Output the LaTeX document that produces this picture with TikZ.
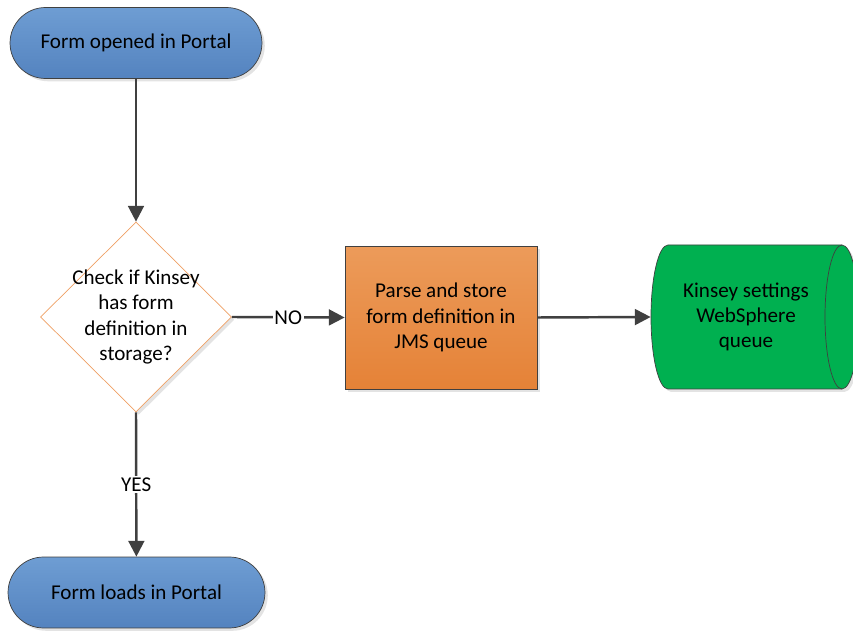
\documentclass[tikz,border=0pt]{standalone}
\usepackage{fontspec}
\setmainfont{Carlito}
\usetikzlibrary{shapes.geometric,arrows.meta,shadows}

\definecolor{termtop}{RGB}{110,157,211}
\definecolor{termbot}{RGB}{84,131,191}
\definecolor{proctop}{RGB}{236,155,90}
\definecolor{procbot}{RGB}{229,130,55}
\definecolor{queuegreen}{RGB}{0,176,80}
\definecolor{decborder}{RGB}{240,160,100}
\definecolor{linegray}{RGB}{64,64,64}

\begin{document}
\begin{tikzpicture}[x=0.02cm,y=-0.02cm,
    font=\fontsize{12}{14.4}\selectfont,
    softshadow/.style={drop shadow={shadow xshift=1.6pt,shadow yshift=-1.6pt,fill=black!22}},
    terminal/.style={rectangle, rounded corners=0.71cm, draw=linegray, top color=termtop,
        bottom color=termbot, minimum height=1.42cm, softshadow},
    decision/.style={diamond, aspect=1, draw=decborder, fill=white, inner sep=0pt,
        minimum width=3.82cm, minimum height=3.8cm, softshadow},
    process/.style={rectangle, draw=linegray, top color=proctop, bottom color=procbot,
        minimum width=3.84cm, minimum height=2.86cm, align=center, softshadow},
    storage/.style={draw=linegray, fill=queuegreen},
    flow/.style={draw=linegray, line width=1.4pt, -{Triangle[length=9pt,width=9pt]}},
    flowlabel/.style={fill=white, inner sep=1pt}]
  \useasboundingbox (0,0) rectangle (853,631);
  \clip (0,0) rectangle (853,631);

  \node[terminal, minimum width=5.04cm] (start) at (136,43) {Form opened in Portal};
  \node[decision] (check) at (136,317) {};
  \node[align=center] (checktxt) at (check.center) {Check if Kinsey\\has form\\definition in\\storage?};
  \node[process] (parse) at (441,317.5) {Parse and store\\form definition in\\JMS queue};

  % horizontal drum of the queue
  \node[inner sep=0pt, minimum width=4.16cm, minimum height=2.88cm] (queue) at (755,317) {};
  \path[storage, softshadow] (668,245) -- (842,245) arc[start angle=-90, end angle=90, x radius=17, y radius=72]
    -- (668,389) arc[start angle=90, end angle=270, x radius=17, y radius=72] -- cycle;
  \draw[linegray] (842,245) arc[start angle=-90, end angle=-270, x radius=17, y radius=72];
  \node[align=center] (queuetxt) at (746,317) {Kinsey settings\\WebSphere\\queue};

  \node[terminal, minimum width=5.14cm] (loaded) at (136.5,592.5) {Form loads in Portal};

  \draw[flow] (start) -- (check);
  \draw[flow] (check.east) -- node[flowlabel] (no) {NO} (parse.west);
  \draw[flow] (parse.east) -- (queue.west);
  \draw[flow] (check.south) -- node[flowlabel] (yes) {YES} (loaded);
\end{tikzpicture}
\end{document}
